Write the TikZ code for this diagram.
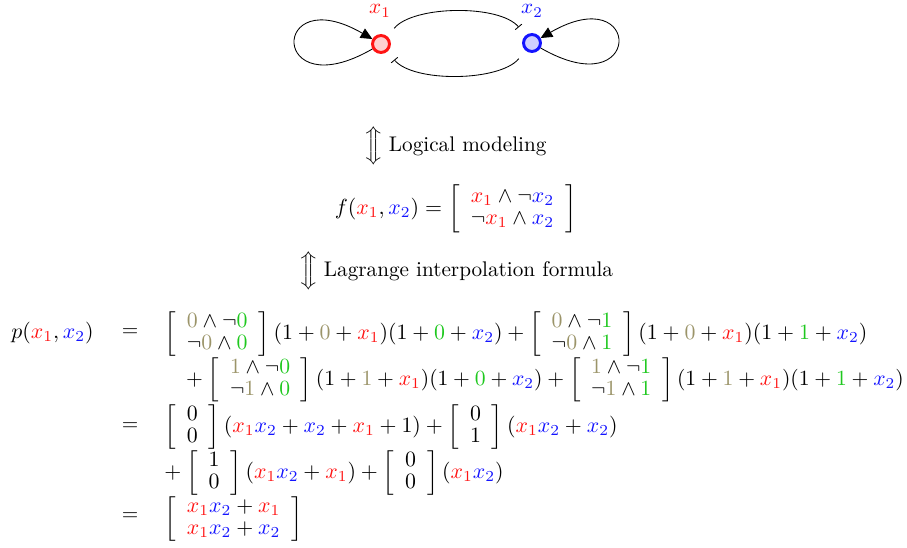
\documentclass[tikz,border=0pt]{standalone}
\usepackage{amsmath,amssymb,graphicx}
\usetikzlibrary{arrows.meta}
\definecolor{xred}{RGB}{255,20,20}
\definecolor{xblue}{RGB}{20,20,255}
\definecolor{olv}{RGB}{155,148,105}
\definecolor{grn}{RGB}{30,200,30}
\newcommand{\Xa}{{\color{xred}x_1}}
\newcommand{\Xb}{{\color{xblue}x_2}}
\newcommand{\Ol}[1]{{\color{olv}#1}}
\newcommand{\Gr}[1]{{\color{grn}#1}}
\newcommand{\LB}[1]{\mathopen{\vcenter{\hbox{\scalebox{1}[#1]{$\biggl[$}}}}}
\newcommand{\RB}[1]{\mathclose{\vcenter{\hbox{\scalebox{1}[#1]{$\biggr]$}}}}}
\newcommand{\Mat}[1]{\mathinner{\LB{0.85}\begin{array}{c}#1\end{array}\RB{0.85}}}
\newcommand{\MatF}[1]{\mathinner{\LB{0.92}\begin{array}{c}#1\end{array}\RB{0.92}}}
\newcommand{\UD}{$\Big\Updownarrow$}
\renewcommand{\arraystretch}{0.85}
\begin{document}
\begin{tikzpicture}[x=0.4717pt,y=-0.4717pt,
  vertex/.style={circle,line width=1.4pt,minimum size=8pt,inner sep=0pt},
  txt/.style={inner sep=0pt},
  mth/.style={inner sep=0pt,scale=1.03,transform shape},
  inhib/.style={-{Bar[width=4pt]},shorten <=5pt,shorten >=5pt},
  selfloop/.style={-{Triangle[length=5.5pt,width=5pt]}}]
\useasboundingbox (0,0) rectangle (907,548);
% graph
\node[vertex,draw=xred,fill=xred!20] (x1) at (381,44) {};
\node[vertex,draw=xblue,fill=xblue!20] (x2) at (532,43) {};
\node[txt] (l1) at (380,11) {$\Xa$};
\node[txt] (l2) at (532,11) {$\Xb$};
\draw[inhib] (x1) to[out=50,in=130,looseness=0.75] (x2);
\draw[inhib] (x2) to[out=230,in=310,looseness=0.75] (x1);
\draw[selfloop] (x1.210) .. controls +(210:56pt) and +(150:56pt) .. (x1.150);
\draw[selfloop] (x2.330) .. controls +(330:56pt) and +(30:56pt) .. (x2.30);
% logical modeling
\node[txt,anchor=west] (lm) at (365,146) {\UD\ Logical modeling};
\node[mth,anchor=east] (f) at (577,209) {$f(\Xa,\Xb)=\MatF{\Xa\wedge\neg\Xb\\ \neg\Xa\wedge\Xb}$};
\node[txt,anchor=west] (li) at (300,271) {\UD\ Lagrange interpolation formula};
% polynomial
\node[mth,anchor=west] (p) at (11,333) {$p(\Xa,\Xb)$};
\node[txt] (e1) at (130,333) {$=$};
\node[mth,anchor=west] (r1) at (164,334) {$\Mat{\Ol0\wedge\neg\Gr0\\ \neg\Ol0\wedge\Gr0}(1+\Ol0+\Xa)(1+\Gr0+\Xb)+\Mat{\Ol0\wedge\neg\Gr1\\ \neg\Ol0\wedge\Gr1}(1+\Ol0+\Xa)(1+\Gr1+\Xb)$};
\node[mth,anchor=west,scale=0.99] (r2) at (181,380) {${}+\Mat{\Ol1\wedge\neg\Gr0\\ \neg\Ol1\wedge\Gr0}(1+\Ol1+\Xa)(1+\Gr0+\Xb)+\Mat{\Ol1\wedge\neg\Gr1\\ \neg\Ol1\wedge\Gr1}(1+\Ol1+\Xa)(1+\Gr1+\Xb)$};
\node[txt] (e2) at (130,427) {$=$};
\node[mth,anchor=west] (r3) at (164,427) {$\Mat{0\\ 0}(\Xa\Xb+\Xb+\Xa+1)+\Mat{0\\ 1}(\Xa\Xb+\Xb)$};
\node[mth,anchor=west] (r4) at (159,473) {${}+\Mat{1\\ 0}(\Xa\Xb+\Xa)+\Mat{0\\ 0}(\Xa\Xb)$};
\node[txt] (e3) at (130,517) {$=$};
\node[mth,anchor=west] (r5) at (164,519) {$\Mat{\Xa\Xb+\Xa\\ \Xa\Xb+\Xb}$};
\end{tikzpicture}
\end{document}
